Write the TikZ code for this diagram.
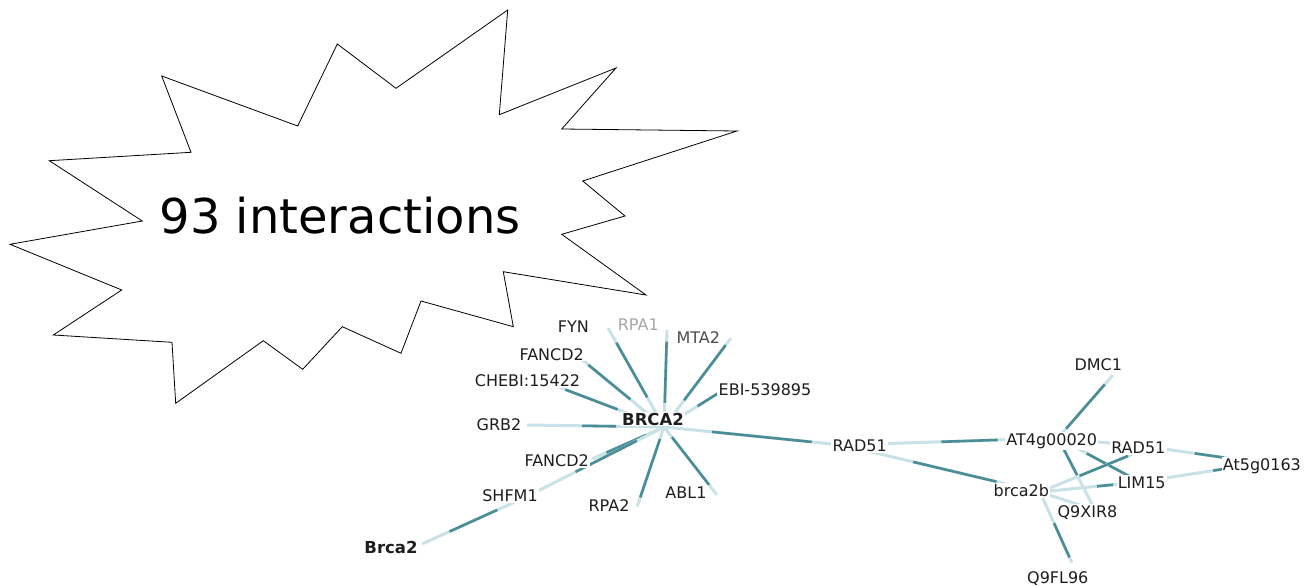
\documentclass[tikz,border=0pt]{standalone}
\usepackage{fontspec}
\setmainfont{DejaVu Sans}
\usetikzlibrary{calc}
\pgfdeclarelayer{bg}
\pgfdeclarelayer{edges}
\pgfsetlayers{bg,edges,main}
\definecolor{edgepale}{HTML}{C8E2E7}
\definecolor{edgedark}{HTML}{4B8D96}
\definecolor{labtext}{HTML}{1E1E1E}
\tikzset{
  pt/.style={circle,inner sep=0pt,minimum size=0pt},
  lab/.style={fill=white,inner sep=1.2pt,anchor=base,text=labtext,
    font=\fontsize{16}{18}\selectfont},
  hublab/.style={lab,font=\bfseries\fontsize{16.5}{18}\selectfont},
  palelink/.style={draw=edgepale,line width=3pt},
  darklink/.style={draw=edgedark,line width=2.6pt},
  burst/.style={draw=black,fill=white,line width=0.8pt,line join=miter}
}
% interaction edge: pale full line with a darker middle stretch
\newcommand\lnk[4]{%
  \draw[palelink] (#1) -- (#2);
  \draw[darklink] ($(#1)!#3!(#2)$) -- ($(#1)!#4!(#2)$);}
\begin{document}
\begin{tikzpicture}[x=1pt,y=-1pt]
\useasboundingbox (0,0) rectangle (1304,586);
\begin{pgfonlayer}{bg}
  \fill[white] (0,0) rectangle (1304,586);
\end{pgfonlayer}

% ---- interaction end points ----
\node[pt] (hub)    at (664,427) {};
\node[pt] (fyn)    at (608,328) {};
\node[pt] (rpa1)   at (667,330) {};
\node[pt] (mta2)   at (731,338) {};
\node[pt] (fancdA) at (580,358) {};
\node[pt] (chebi)  at (548,383) {};
\node[pt] (ebi)    at (725,389) {};
\node[pt] (grb2)   at (527,425) {};
\node[pt] (fancdB) at (592,459) {};
\node[pt] (shfm)   at (528,496) {};
\node[pt] (rpa2)   at (637,507) {};
\node[pt] (abl)    at (717,495) {};
\node[pt] (mbrca)  at (422,544) {};
\node[pt] (radA)   at (842,445) {};
\node[pt] (at4)    at (1058,438) {};
\node[pt] (dmc)    at (1113,375) {};
\node[pt] (radB)   at (1150,447) {};
\node[pt] (at5)    at (1262,463) {};
\node[pt] (lim)    at (1140,482) {};
\node[pt] (bb)     at (1040,492) {};
\node[pt] (q9x)    at (1095,510) {};
\node[pt] (q9f)    at (1072,563) {};

% ---- labels ----
\node[lab] (fynT)    at (573.3,332.5) {FYN};
\node[lab,text=black!35] (rpa1T) at (638.3,330) {RPA1};
\node[lab,text=black!70] (mta2T) at (698.3,343.3) {MTA2};
\node[lab] (fancdAT) at (551.7,360) {FANCD2};
\node[lab] (chebiT)  at (527.5,386.7) {CHEBI:15422};
\node[lab] (ebiT)    at (765,395) {EBI-539895};
\node[lab] (grb2T)   at (499,430) {GRB2};
\node[hublab] (hubT) at (653,425) {BRCA2};
\node[lab] (fancdBT) at (556.7,466.7) {FANCD2};
\node[lab] (shfmT)   at (510,501.7) {SHFM1};
\node[lab] (rpa2T)   at (609,511.7) {RPA2};
\node[lab] (ablT)    at (686,498) {ABL1};
\node[hublab] (mbrcaT) at (391,553) {Brca2};
\node[lab] (radAT)   at (859.7,451.7) {RAD51};
\node[lab] (dmcT)    at (1098.3,370.7) {DMC1};
\node[lab] (at4T)    at (1051.7,445) {AT4g00020};
\node[lab] (radBT)   at (1138.3,453.3) {RAD51};
\node[lab,anchor=base west] (at5T) at (1221.5,470) {At5g0163};
\node[lab] (limT)    at (1141.7,488.3) {LIM15};
\node[lab] (bbT)     at (1021.3,496.7) {brca2b};
\node[lab] (q9xT)    at (1087.5,517) {Q9XIR8};
\node[lab] (q9fT)    at (1057.8,583.3) {Q9FL96};

% ---- edges ----
\begin{pgfonlayer}{edges}
  \lnk{fyn}{hub}{0.15}{0.7}
  \lnk{rpa1}{hub}{0.12}{0.75}
  \lnk{mta2}{hub}{0.08}{0.7}
  \lnk{fancdA}{hub}{0.1}{0.6}
  \lnk{chebi}{hub}{0.15}{0.6}
  \lnk{ebi}{hub}{0.05}{0.45}
  \lnk{grb2}{hub}{0.4}{0.65}
  \lnk{fancdB}{hub}{0.2}{0.75}
  \lnk{shfm}{hub}{0.35}{0.8}
  \lnk{rpa2}{hub}{0.12}{0.85}
  \lnk{abl}{hub}{0.15}{0.85}
  \lnk{radA}{hub}{0.17}{0.73}
  \lnk{mbrca}{shfm}{0.26}{0.71}
  \lnk{radA}{at4}{0.46}{0.72}
  \lnk{radA}{bb}{0.36}{0.78}
  \lnk{at4}{dmc}{0.15}{0.85}
  \lnk{at4}{lim}{0.35}{0.95}
  \lnk{at4}{q9x}{0.1}{0.55}
  \lnk{at4}{radB}{0.5}{0.5}
  \lnk{bb}{radB}{0.36}{0.8}
  \lnk{bb}{lim}{0.57}{0.73}
  \lnk{bb}{q9x}{0.5}{0.5}
  \lnk{bb}{q9f}{0.44}{0.92}
  \lnk{radB}{at5}{0.4}{0.66}
  \lnk{lim}{at5}{0.6}{0.7}
\end{pgfonlayer}

% ---- callout burst ----
\draw[burst] (507.7,10) -- (499.3,114.7) -- (616,68) -- (561.7,129)
  -- (737,131) -- (582.7,181) -- (625,216) -- (561.7,234.3)
  -- (646,295) -- (503.3,271.7) -- (513.3,326.7) -- (421,301)
  -- (401,353.3) -- (342.3,326.7) -- (302.7,369.3) -- (263.3,340.7)
  -- (175.7,403.3) -- (172,342.3) -- (53.3,335) -- (121.7,290)
  -- (10,244.3) -- (142.3,221) -- (49.3,160.7) -- (191,152.3)
  -- (161.7,76) -- (297.7,126) -- (337.3,44) -- (396,88.3) -- cycle;
\node[anchor=base,inner sep=0pt,font=\fontsize{48}{58}\selectfont] (callout)
  at (340,233.3) {93 interactions};
\end{tikzpicture}
\end{document}
